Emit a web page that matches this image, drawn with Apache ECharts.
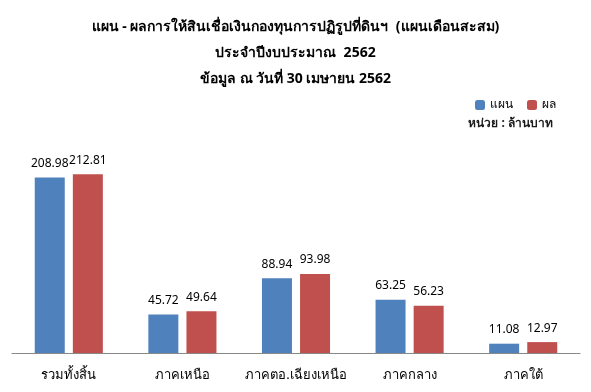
<!DOCTYPE html>
<html><head><meta charset="utf-8">
<script src="https://cdn.jsdelivr.net/npm/echarts@6/dist/echarts.min.js"></script>
<style>html,body{margin:0;padding:0;background:#fff}#c{width:591px;height:392px}</style>
</head><body><div id="c"></div>
<script>
const categories = ['รวมทั้งสิ้น','ภาคเหนือ','ภาคตอ.เฉียงเหนือ','ภาคกลาง','ภาคใต้'];
const planValues = [208.98, 45.72, 88.94, 63.25, 11.08];
const resultValues = [212.81, 49.64, 93.98, 56.23, 12.97];
const titleLines = ['แผน - ผลการให้สินเชื่อเงินกองทุนการปฏิรูปที่ดินฯ  (แผนเดือนสะสม)','ประจำปีงบประมาณ  2562','ข้อมูล ณ วันที่ 30 เมษายน 2562'];
const unitText = 'หน่วย : ล้านบาท';
const FONT = 'Tahoma, "Noto Sans", "DejaVu Sans", sans-serif';
const chart = echarts.init(document.getElementById('c'));
chart.setOption({
  animation:false,
  title:{text:titleLines.join('\n'),left:'center',top:9,textStyle:{fontFamily:FONT,fontSize:14,fontWeight:'bold',color:'#000',lineHeight:26}},
  legend:{right:30,top:94,itemWidth:10,itemHeight:10,itemGap:14,textStyle:{fontFamily:FONT,fontSize:12,color:'#000'},data:['แผน','ผล']},
  graphic:[{type:'text',right:38,top:118,style:{text:unitText,font:'bold 12px '+FONT,fill:'#1a1a1a'}}],
  grid:{left:12,right:11,top:143,bottom:39},
  xAxis:{type:'category',data:categories,axisTick:{show:false},axisLine:{lineStyle:{color:'#888'}},axisLabel:{interval:0,fontFamily:FONT,fontSize:13,color:'#000',margin:16}},
  yAxis:{type:'value',min:0,max:250,show:false,splitLine:{show:false}},
  series:[
    {name:'แผน',type:'bar',data:planValues,barWidth:30,barGap:'27%',itemStyle:{color:'#4f81bd'},label:{show:true,position:'top',distance:8,fontFamily:FONT,fontSize:12,color:'#000'}},
    {name:'ผล',type:'bar',data:resultValues,barWidth:30,itemStyle:{color:'#c0504d'},label:{show:true,position:'top',distance:8,fontFamily:FONT,fontSize:12,color:'#000'}}
  ]
});
</script></body></html>
